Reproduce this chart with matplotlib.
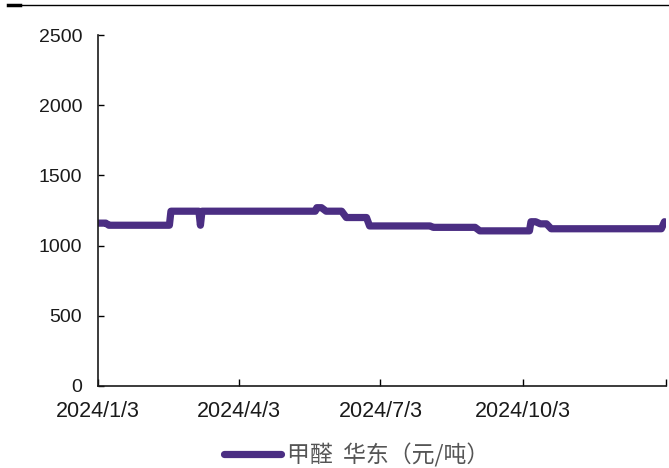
import pandas as pd
import matplotlib.pyplot as plt
from matplotlib.lines import Line2D

# 甲醛 华东 price, only the days where the level changes
dates = ["2024-01-03", "2024-01-08", "2024-01-10", "2024-02-18", "2024-02-19",
         "2024-03-08", "2024-03-09", "2024-03-10", "2024-05-22", "2024-05-23",
         "2024-05-26", "2024-05-29", "2024-06-08", "2024-06-11", "2024-06-24",
         "2024-06-26", "2024-08-04", "2024-08-06", "2024-09-02", "2024-09-05",
         "2024-10-07", "2024-10-08", "2024-10-11", "2024-10-14", "2024-10-18",
         "2024-10-21", "2024-12-31", "2025-01-02"]
prices = [1160, 1160, 1145, 1145, 1245,
          1245, 1145, 1245, 1245, 1270,
          1270, 1245, 1245, 1200, 1200,
          1140, 1140, 1130, 1130, 1105,
          1105, 1170, 1170, 1155, 1155,
          1120, 1120, 1170]
series_name = "甲醛  华东（元/吨）"
xticks = ["2024-01-03", "2024-04-03", "2024-07-03", "2024-10-03", "2025-01-03"]
xlabels = ["2024/1/3", "2024/4/3", "2024/7/3", "2024/10/3", ""]
yticks = [0, 500, 1000, 1500, 2000, 2500]

purple = "#4b2e83"
x = pd.to_datetime(dates)

fig = plt.figure(figsize=(6.69, 4.68), dpi=100)
ax = fig.add_axes([98 / 669, 1 - 386 / 468, 568 / 669, 351 / 468])

ax.plot(x, prices, color=purple, lw=5.2, solid_joinstyle="round",
        solid_capstyle="round", label=series_name)

ax.set_xlim(pd.Timestamp("2024-01-03"), pd.Timestamp("2025-01-03"))
ax.set_ylim(0, 2500)
ax.set_yticks(yticks)
ax.set_yticklabels([str(v) for v in yticks], family=["Liberation Sans", "DejaVu Sans"],
                   fontsize=14, color="#1a1a1a")
ax.set_xticks(pd.to_datetime(xticks))
ax.set_xticklabels(xlabels, family=["Liberation Sans", "DejaVu Sans"],
                   fontsize=15.5, color="#1a1a1a")
ax.tick_params(axis="y", direction="in", length=4, width=1, pad=11.5)
ax.tick_params(axis="x", direction="in", length=5, width=1, pad=11)

for s in ["top", "right"]:
    ax.spines[s].set_visible(False)
for s in ["left", "bottom"]:
    ax.spines[s].set_linewidth(1.2)
    ax.spines[s].set_color("#1a1a1a")

# header rule
fig.add_artist(Line2D([8 / 669, 1], [1 - 5 / 468] * 2, color="black", lw=1))
fig.add_artist(Line2D([8 / 669, 20 / 669], [1 - 5 / 468] * 2, color="black", lw=2.5))

leg = fig.legend(loc="center", bbox_to_anchor=(357 / 669, 1 - 455 / 468),
                 frameon=False, handlelength=2.45, handletextpad=0.3,
                 borderpad=0.2, prop={"family": ["Noto Sans CJK SC", "DejaVu Sans"],
                                      "size": 16.5, "weight": "light"})
for t in leg.get_texts():
    t.set_color("#555555")

fig.savefig("out.png", dpi=100)
